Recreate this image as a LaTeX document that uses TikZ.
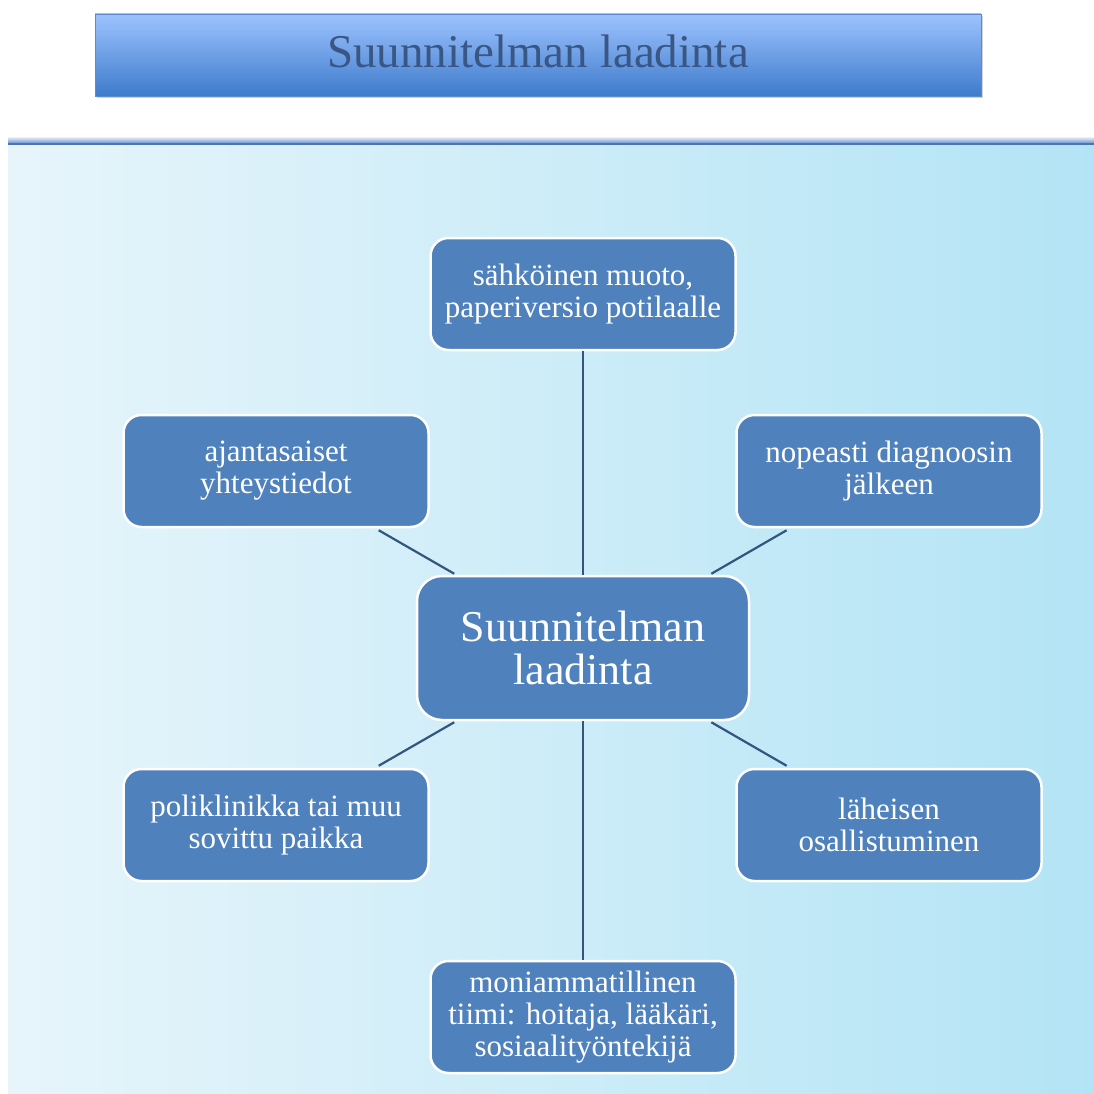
\documentclass[tikz,border=0pt]{standalone}
\usepackage{fontspec}
\setmainfont{Liberation Serif}
\usetikzlibrary{shadows}
\definecolor{nodefill}{HTML}{4F81BD}
\definecolor{connc}{HTML}{34557F}
\definecolor{bgleft}{HTML}{E7F5FB}
\definecolor{bgright}{HTML}{B3E4F5}
\definecolor{titletop}{HTML}{9DC3FF}
\definecolor{titlebot}{HTML}{3E7BCB}
\definecolor{titletext}{HTML}{3A5684}
\definecolor{sepc}{HTML}{5A8ACF}
\tikzset{
  child/.style={draw=white, line width=2.5pt, fill=nodefill, rounded corners=18pt,
    minimum width=305pt, minimum height=112pt, text=white, align=center,
    inner sep=0pt, font=\fontsize{31}{32}\selectfont},
  hub/.style={child, rounded corners=25pt, minimum width=332pt, minimum height=144pt,
    font=\fontsize{44}{43}\selectfont},
  conn/.style={draw=connc, line width=2.2pt},
}
\begin{document}
\begin{tikzpicture}[x=1pt,y=-1pt]
\useasboundingbox (0,0) rectangle (1094,1094);
\fill[white] (0,0) rectangle (1094,1094);
% background panel
\shade[left color=bgleft, right color=bgright] (8,145) rectangle (1094,1094);
% separator band
\shade[top color=white, bottom color=sepc] (8,136) rectangle (1094,144);
\fill[sepc!85!black] (8,143) rectangle (1094,145.5);
% title bar
\node[draw=sepc, line width=0.8pt, top color=titletop, bottom color=titlebot,
  minimum width=886pt, minimum height=82pt, inner sep=0pt,
  drop shadow={opacity=0.35, shadow xshift=1.5pt, shadow yshift=-2.5pt}] (title) at (538,55) {};
\node[text=titletext, font=\fontsize{47}{47}\selectfont, inner sep=0pt] (titletxt) at (538,51) {Suunnitelman laadinta};
% nodes
\node[hub] (c) at (583,648) {Suunnitelman\\laadinta};
\node[child] (t) at (583,294) {sähköinen muoto,\\paperiversio potilaalle};
\node[child] (lu) at (276,471) {ajantasaiset\\yhteystiedot};
\node[child] (ru) at (889,471) {nopeasti diagnoosin\\jälkeen};
\node[child] (ll) at (276,825) {poliklinikka tai muu\\sovittu paikka};
\node[child] (rl) at (889,825) {läheisen\\osallistuminen};
\node[child] (b) at (583,1017) {moniammatillinen\\tiimi: hoitaja, lääkäri,\\sosiaalityöntekijä};
% connectors
\draw[conn] (c) -- (t);
\draw[conn] (c) -- (b);
\draw[conn, shorten <=2pt, shorten >=4pt] (c) -- (lu);
\draw[conn, shorten <=2pt, shorten >=4pt] (c) -- (ru);
\draw[conn, shorten <=2pt, shorten >=4pt] (c) -- (ll);
\draw[conn, shorten <=2pt, shorten >=4pt] (c) -- (rl);
\end{tikzpicture}
\end{document}
